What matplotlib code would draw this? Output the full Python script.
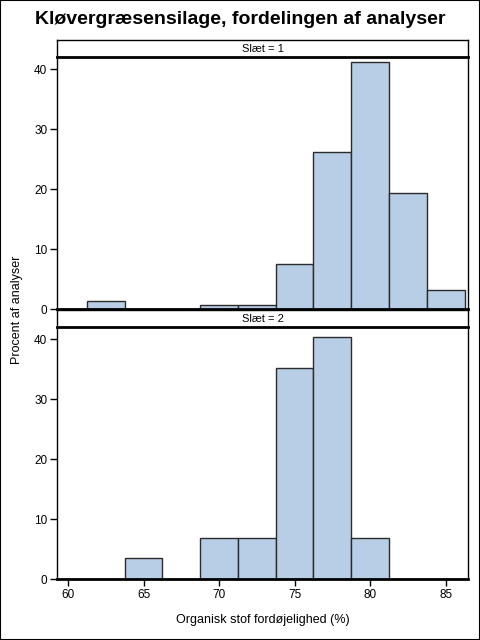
import matplotlib
matplotlib.use("Agg")
import matplotlib.pyplot as plt
from matplotlib.patches import Rectangle

plt.rcParams['font.family'] = ['Liberation Sans', 'DejaVu Sans']

# bin centres (width 2.5) and percent per bin
bin_centers = [60, 62.5, 65, 67.5, 70, 72.5, 75, 77.5, 80, 82.5, 85]
slaet1 = [0, 1.3, 0, 0, 0.6, 0.6, 7.5, 26.2, 41.2, 19.4, 3.2]
slaet2 = [0, 0, 3.5, 0, 6.9, 6.9, 35.1, 40.3, 6.9, 0, 0]
panels = [("Slæt = 1", slaet1), ("Slæt = 2", slaet2)]
bin_width = 2.5
x_ticks = [60, 65, 70, 75, 80, 85]
y_ticks = [0, 10, 20, 30, 40]

W, H = 480, 640
fig = plt.figure(figsize=(W / 100, H / 100), dpi=100)
fig.patches.append(Rectangle((0, 0), 1, 1, transform=fig.transFigure,
                             fill=False, edgecolor="black", linewidth=1.5))

def box(l, t, r, b):
    return [l / W, 1 - b / H, (r - l) / W, (b - t) / H]

fig.text(0.5, 1 - 20 / H, "Kløvergræsensilage, fordelingen af analyser",
         ha="center", va="center", fontsize=14, fontweight="bold")

left, right = 57, 468
layout = [(40, 57, 309), (310, 327, 579)]

for i, ((label, vals), (ht, at, ab)) in enumerate(zip(panels, layout)):
    ax = fig.add_axes(box(left, at, right, ab))
    ax.bar(bin_centers, vals, width=bin_width, color="#b8cde6",
           edgecolor="#2b2b2b", linewidth=1)
    ax.set_xlim(59.27, 86.48)
    ax.set_ylim(0, 42)
    ax.set_yticks(y_ticks)
    ax.set_xticks(x_ticks)
    ax.tick_params(direction="out", length=5, width=1, labelsize=8.5, pad=2)
    for s in ax.spines.values():
        s.set_linewidth(1)
    ax.spines["top"].set_visible(False)
    ax.spines["bottom"].set_linewidth(2)
    if i == 0:
        ax.tick_params(axis="x", bottom=False, labelbottom=False)

    # header strip
    hax = fig.add_axes(box(left, ht, right, at))
    hax.set_zorder(3)
    hax.set_xticks([])
    hax.set_yticks([])
    for s in hax.spines.values():
        s.set_linewidth(1)
    hax.spines["bottom"].set_linewidth(2)
    hax.text(0.5, 0.5, label, ha="center", va="center", fontsize=8,
             transform=hax.transAxes)

fig.text(17 / W, 1 - 310 / H, "Procent af analyser", rotation=90,
         ha="center", va="center", fontsize=9)
fig.text((left + right) / 2 / W, 1 - 620 / H, "Organisk stof fordøjelighed (%)",
         ha="center", va="center", fontsize=9)

fig.savefig("out.png", dpi=100)
